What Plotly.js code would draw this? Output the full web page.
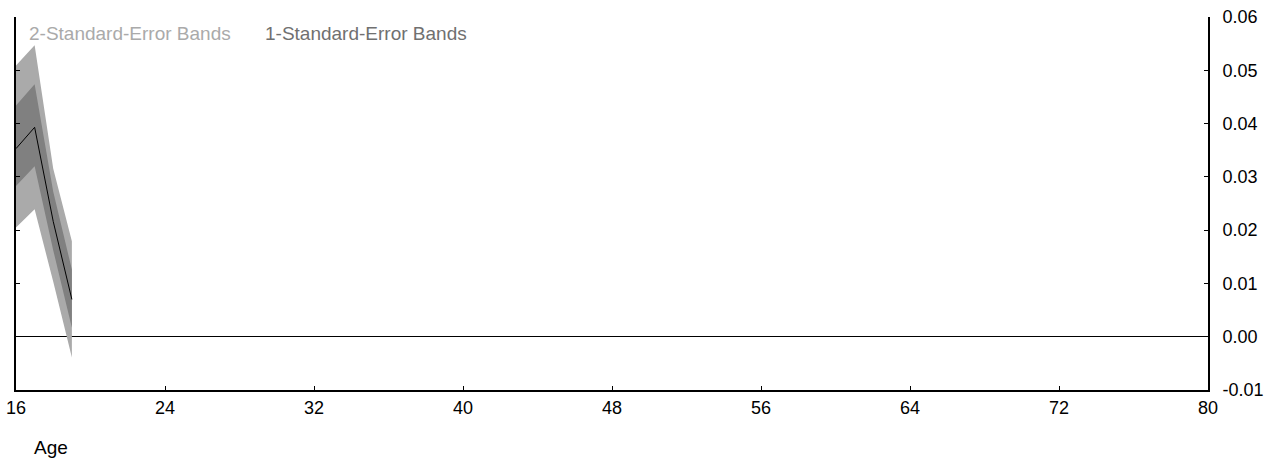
<!DOCTYPE html>
<html>
<head>
<meta charset="utf-8">
<script src="https://cdn.plot.ly/plotly-3.0.1.min.js"></script>
<style>html,body{margin:0;padding:0;background:#fff;}#chart{width:1283px;height:466px;}</style>
</head>
<body>
<div id="chart"></div>
<script>
// Data
const ages = [16, 17, 18, 19];
const estimate = [0.0353, 0.0393, 0.0216, 0.0070];
const upper1SE = [0.0434, 0.0474, 0.0272, 0.0126];
const lower1SE = [0.0283, 0.0320, 0.0162, 0.0017];
const upper2SE = [0.0509, 0.0547, 0.0315, 0.0179];
const lower2SE = [0.0205, 0.0239, 0.0103, -0.0039];

const xTickVals = [16, 24, 32, 40, 48, 56, 64, 72, 80];
const yTickVals = [-0.01, 0.00, 0.01, 0.02, 0.03, 0.04, 0.05, 0.06];
const yTickText = ['-0.01', '0.00', '0.01', '0.02', '0.03', '0.04', '0.05', '0.06'];

const legendLabels = ['2-Standard-Error Bands', '1-Standard-Error Bands'];
const xAxisLabel = 'Age';

function band(upper, lower) {
  return {
    x: ages.concat(ages.slice().reverse()),
    y: upper.concat(lower.slice().reverse())
  };
}

const b2 = band(upper2SE, lower2SE);
const b1 = band(upper1SE, lower1SE);

const traces = [
  {x: b2.x, y: b2.y, type: 'scatter', mode: 'lines', fill: 'toself',
   fillcolor: '#aaaaaa', line: {width: 0, color: '#aaaaaa'}, name: legendLabels[0],
   showlegend: false, hoverinfo: 'skip'},
  {x: b1.x, y: b1.y, type: 'scatter', mode: 'lines', fill: 'toself',
   fillcolor: '#808080', line: {width: 0, color: '#808080'}, name: legendLabels[1],
   showlegend: false, hoverinfo: 'skip'},
  {x: ages, y: estimate, type: 'scatter', mode: 'lines',
   line: {color: '#000000', width: 1}, showlegend: false}
];

const layout = {
  width: 1283, height: 466,
  margin: {l: 16, r: 75, t: 17, b: 76, pad: 0},
  paper_bgcolor: '#ffffff', plot_bgcolor: '#ffffff',
  font: {family: 'Liberation Sans, Arial, sans-serif', size: 18, color: '#000'},
  showlegend: false,
  xaxis: {
    range: [16, 80], tickvals: xTickVals, ticktext: xTickVals.map(String),
    showgrid: false, zeroline: false, showline: true, linecolor: '#000', linewidth: 2,
    ticks: 'inside', ticklen: 4, tickcolor: '#000', tickwidth: 1,
    mirror: false, fixedrange: true
  },
  yaxis: {
    range: [-0.01, 0.06], side: 'right', tickvals: yTickVals, ticktext: yTickText,
    showgrid: false, zeroline: true, zerolinecolor: '#000', zerolinewidth: 1,
    showline: true, linecolor: '#000', linewidth: 2,
    ticks: 'inside', ticklen: 4, tickcolor: '#000', tickwidth: 1,
    mirror: 'ticks', ticklabelstandoff: 9, fixedrange: true
  },
  annotations: [
    {text: legendLabels[0], xref: 'paper', yref: 'paper', x: 0.0095, y: 0.957,
     xanchor: 'left', yanchor: 'middle', showarrow: false,
     font: {size: 19, color: '#aaaaaa'}},
    {text: legendLabels[1], xref: 'paper', yref: 'paper', x: 0.2075, y: 0.957,
     xanchor: 'left', yanchor: 'middle', showarrow: false,
     font: {size: 19, color: '#707070'}},
    {text: xAxisLabel, xref: 'paper', yref: 'paper', x: 0.0138, y: -0.153,
     xanchor: 'left', yanchor: 'middle', showarrow: false,
     font: {size: 19, color: '#000'}}
  ]
};

Plotly.newPlot('chart', traces, layout, {staticPlot: true, displayModeBar: false});
</script>
</body>
</html>
